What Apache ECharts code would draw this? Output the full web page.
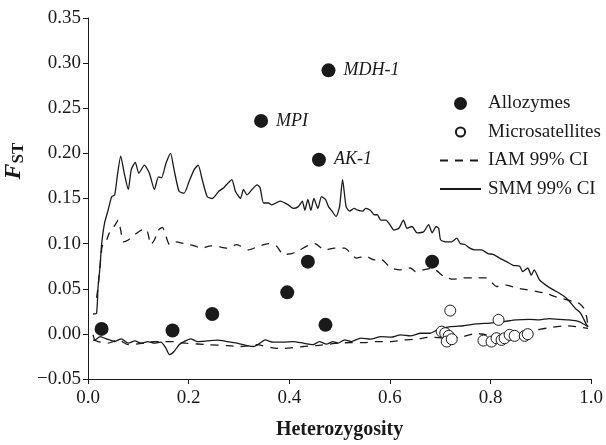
<!DOCTYPE html>
<html><head><meta charset="utf-8">
<script src="https://cdn.jsdelivr.net/npm/echarts@6/dist/echarts.min.js"></script>
<style>html,body{margin:0;padding:0;background:#fff}#c{width:606px;height:445px}</style>
</head><body><div id="c"></div>
<script>
var xTicks = [0, 0.2, 0.4, 0.6, 0.8, 1.0];
var yTicks = [-0.05, 0, 0.05, 0.10, 0.15, 0.20, 0.25, 0.30, 0.35];

var allozymes = [[0.027,0.0055],[0.168,0.0037],[0.247,0.022],[0.396,0.046],[0.437,0.080],[0.472,0.010],[0.684,0.080]];
var allozymesLabeled = [["MPI",0.344,0.236],["AK-1",0.459,0.193],["MDH-1",0.478,0.292]];

var microsatellites = [[0.720,0.0258],[0.816,0.0155],[0.703,0.0025],[0.710,0.0008],[0.717,-0.0022],[0.713,-0.0085],[0.723,-0.0059],[0.786,-0.0074],[0.802,-0.0085],[0.812,-0.0048],[0.822,-0.0067],[0.828,-0.0048],[0.838,-0.0011],[0.848,-0.0022],[0.868,-0.0022],[0.874,-0.0003]];

var smmUpper = [[0.010,0.022],[0.017,0.023],[0.020,0.052],[0.024,0.075],[0.027,0.099],[0.033,0.123],[0.040,0.137],[0.047,0.152],[0.053,0.154],[0.058,0.174],[0.065,0.197],[0.072,0.178],[0.080,0.160],[0.086,0.182],[0.094,0.190],[0.101,0.178],[0.112,0.187],[0.122,0.178],[0.132,0.160],[0.140,0.174],[0.146,0.173],[0.155,0.189],[0.164,0.200],[0.171,0.182],[0.181,0.158],[0.191,0.156],[0.201,0.169],[0.211,0.182],[0.219,0.187],[0.227,0.171],[0.237,0.152],[0.247,0.150],[0.260,0.158],[0.270,0.162],[0.278,0.167],[0.286,0.171],[0.293,0.158],[0.303,0.150],[0.309,0.160],[0.316,0.154],[0.326,0.160],[0.336,0.165],[0.342,0.162],[0.349,0.145],[0.359,0.145],[0.365,0.143],[0.382,0.147],[0.398,0.143],[0.408,0.139],[0.418,0.141],[0.426,0.147],[0.431,0.137],[0.437,0.149],[0.443,0.137],[0.449,0.150],[0.457,0.139],[0.464,0.152],[0.472,0.149],[0.478,0.141],[0.485,0.136],[0.493,0.130],[0.500,0.141],[0.506,0.171],[0.513,0.141],[0.520,0.136],[0.529,0.139],[0.536,0.137],[0.546,0.136],[0.552,0.139],[0.561,0.137],[0.569,0.132],[0.575,0.132],[0.582,0.126],[0.592,0.126],[0.600,0.121],[0.608,0.115],[0.618,0.117],[0.627,0.126],[0.634,0.117],[0.644,0.119],[0.654,0.112],[0.667,0.113],[0.677,0.121],[0.684,0.112],[0.692,0.119],[0.697,0.117],[0.701,0.104],[0.713,0.102],[0.723,0.102],[0.733,0.106],[0.740,0.100],[0.749,0.099],[0.759,0.095],[0.769,0.093],[0.782,0.093],[0.795,0.089],[0.805,0.088],[0.818,0.084],[0.832,0.080],[0.845,0.076],[0.858,0.075],[0.864,0.069],[0.874,0.073],[0.881,0.065],[0.887,0.071],[0.897,0.060],[0.910,0.054],[0.924,0.049],[0.937,0.045],[0.950,0.040],[0.960,0.034],[0.969,0.028],[0.979,0.023],[0.986,0.0155],[0.991,0.010],[0.994,0.008]];

var smmLower = [[0.010,-0.001],[0.014,-0.0067],[0.024,-0.003],[0.033,-0.0048],[0.043,-0.0067],[0.053,-0.0085],[0.066,-0.0055],[0.080,-0.0103],[0.093,-0.0078],[0.106,-0.0103],[0.119,-0.0085],[0.132,-0.0103],[0.145,-0.0092],[0.155,-0.016],[0.162,-0.023],[0.171,-0.0196],[0.181,-0.012],[0.191,-0.0085],[0.204,-0.0055],[0.217,-0.0085],[0.237,-0.0078],[0.257,-0.007],[0.276,-0.0085],[0.296,-0.0103],[0.316,-0.013],[0.329,-0.014],[0.342,-0.0103],[0.352,-0.0067],[0.368,-0.0092],[0.388,-0.0092],[0.408,-0.0085],[0.428,-0.0103],[0.447,-0.012],[0.460,-0.0085],[0.474,-0.0114],[0.487,-0.0085],[0.497,-0.0103],[0.510,-0.0067],[0.523,-0.0085],[0.542,-0.0048],[0.562,-0.0059],[0.582,-0.003],[0.602,-0.0037],[0.621,-0.0011],[0.641,-0.0022],[0.661,0.0007],[0.680,0.0007],[0.694,0.0044],[0.720,0.008],[0.746,0.009],[0.772,0.011],[0.799,0.012],[0.825,0.0136],[0.851,0.0155],[0.877,0.016],[0.897,0.0155],[0.917,0.017],[0.937,0.016],[0.956,0.0155],[0.976,0.0136],[0.994,0.008]];

var iamUpper = [[0.017,0.040],[0.020,0.052],[0.027,0.093],[0.030,0.100],[0.037,0.104],[0.041,0.110],[0.047,0.117],[0.053,0.120],[0.060,0.126],[0.065,0.115],[0.070,0.102],[0.080,0.104],[0.093,0.110],[0.106,0.115],[0.116,0.116],[0.125,0.099],[0.132,0.104],[0.140,0.115],[0.148,0.118],[0.155,0.108],[0.162,0.099],[0.175,0.102],[0.191,0.100],[0.211,0.0976],[0.227,0.095],[0.244,0.0976],[0.257,0.097],[0.276,0.095],[0.296,0.099],[0.319,0.093],[0.339,0.097],[0.359,0.100],[0.375,0.097],[0.388,0.088],[0.405,0.089],[0.421,0.093],[0.434,0.097],[0.451,0.100],[0.470,0.093],[0.490,0.095],[0.510,0.095],[0.533,0.084],[0.552,0.086],[0.569,0.082],[0.582,0.083],[0.602,0.073],[0.621,0.071],[0.641,0.073],[0.651,0.069],[0.667,0.071],[0.684,0.073],[0.707,0.0636],[0.726,0.0606],[0.746,0.062],[0.766,0.062],[0.792,0.062],[0.812,0.0525],[0.832,0.054],[0.851,0.051],[0.871,0.049],[0.891,0.047],[0.910,0.045],[0.930,0.041],[0.950,0.038],[0.963,0.036],[0.976,0.034],[0.986,0.028],[0.991,0.019],[0.994,0.006]];

var iamLower = [[0.010,-0.0067],[0.020,-0.0085],[0.040,-0.0103],[0.060,-0.0067],[0.080,-0.012],[0.112,-0.0103],[0.132,-0.0085],[0.152,-0.0085],[0.165,-0.0085],[0.195,-0.0103],[0.240,-0.012],[0.276,-0.013],[0.303,-0.014],[0.335,-0.012],[0.375,-0.016],[0.390,-0.016],[0.428,-0.014],[0.454,-0.013],[0.497,-0.0103],[0.523,-0.0096],[0.549,-0.0096],[0.575,-0.0085],[0.602,-0.0085],[0.628,-0.0067],[0.654,-0.0059],[0.680,-0.0037],[0.713,-0.0048],[0.746,-0.003],[0.772,0.0007],[0.792,-0.001],[0.825,-0.0004],[0.858,0.0007],[0.891,0.0044],[0.924,0.0074],[0.950,0.0089],[0.969,0.008],[0.994,0.006]];

var FONT = '"Liberation Serif", "Times New Roman", serif';
var INK = '#1a1a1a';

var chart = echarts.init(document.getElementById('c'), null, {renderer: 'canvas'});

function lineSeries(name, data, dashed) {
  return {
    name: name, type: 'line', data: data, symbol: 'none', showSymbol: false, smooth: 0.2,
    lineStyle: {color: INK, width: 1.3, type: dashed ? [8, 7] : 'solid'},
    itemStyle: {color: INK}, z: 2, animation: false
  };
}

var option = {
  animation: false,
  backgroundColor: '#fff',
  grid: {left: 88, right: 13, top: 18, bottom: 66, containLabel: false},
  xAxis: {
    type: 'value', min: 0, max: 1, interval: 0.2,
    name: 'Heterozygosity', nameLocation: 'middle', nameGap: 41,
    nameTextStyle: {fontFamily: FONT, fontSize: 20, fontWeight: 'bold', color: INK},
    axisLine: {show: true, onZero: false, lineStyle: {color: INK, width: 1}},
    axisTick: {show: true, length: 5, lineStyle: {color: INK}},
    axisLabel: {fontFamily: FONT, fontSize: 19, color: INK, margin: 10,
      formatter: function (v) { return v.toFixed(1); }},
    splitLine: {show: false}
  },
  yAxis: {
    type: 'value', min: -0.05, max: 0.35, interval: 0.05,
    axisLine: {show: true, onZero: false, lineStyle: {color: INK, width: 1}},
    axisTick: {show: true, length: 5, lineStyle: {color: INK}},
    axisLabel: {fontFamily: FONT, fontSize: 19, color: INK, margin: 7,
      formatter: function (v) { var s = Math.abs(v).toFixed(2); return v < -1e-9 ? '\u2212' + s : s; }},
    splitLine: {show: false}
  },
  legend: {
    orient: 'vertical', left: 434, top: 89, itemWidth: 41, itemHeight: 13, itemGap: 9.5,
    textStyle: {fontFamily: FONT, fontSize: 19, color: INK, padding: [0, 0, 0, 2]},
    data: [
      {name: 'Allozymes', icon: 'circle'},
      {name: 'Microsatellites', icon: 'path://M-4.6,0A4.6,4.6 0 1 1 4.6,0A4.6,4.6 0 1 1 -4.6,0Z M-6.5,-6.5L-6.5,-6.5M6.5,6.5L6.5,6.5'},
      {name: 'IAM 99% CI', itemStyle: {opacity: 0}},
      {name: 'SMM 99% CI', itemStyle: {opacity: 0}}
    ]
  },
  graphic: [{
    type: 'text', x: 14, y: 161, rotation: Math.PI / 2,
    style: {
      text: '{f|F}{s|ST}', align: 'center', verticalAlign: 'middle',
      rich: {
        f: {fontFamily: FONT, fontSize: 24, fontStyle: 'italic', fontWeight: 'bold', fill: INK},
        s: {fontFamily: FONT, fontSize: 17, fontWeight: 'bold', fill: INK, padding: [9, 0, 0, 0]}
      }
    }
  }],
  series: [
    lineSeries('SMM 99% CI', smmUpper, false),
    lineSeries('SMM 99% CI', smmLower, false),
    lineSeries('IAM 99% CI', iamUpper, true),
    lineSeries('IAM 99% CI', iamLower, true),
    {
      name: 'Microsatellites', type: 'scatter', symbol: 'circle', symbolSize: 11,
      data: microsatellites, z: 3,
      itemStyle: {color: '#fff', borderColor: INK, borderWidth: 1, opacity: 1}
    },
    {
      name: 'Allozymes', type: 'scatter', symbol: 'circle', symbolSize: 14,
      z: 4, itemStyle: {color: INK, opacity: 1},
      data: allozymes.concat(allozymesLabeled.map(function (d) {
        return {value: [d[1], d[2]], name: d[0],
          label: {show: true, position: 'right', distance: 8, formatter: '{b}',
            fontFamily: FONT, fontSize: 18, fontStyle: 'italic', color: INK}};
      }))
    }
  ]
};
chart.setOption(option);
</script>
</body></html>
